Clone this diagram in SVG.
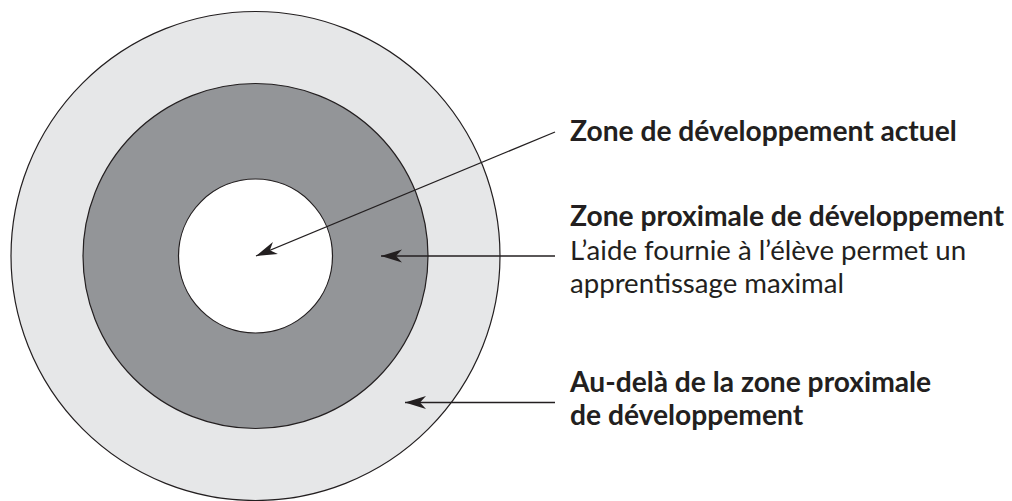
<svg xmlns="http://www.w3.org/2000/svg" width="1012" height="501" viewBox="0 0 1012 501">
<style>
.ring{stroke:#231f20;stroke-width:1.2}
.conn{stroke:#231f20;stroke-width:1.3;fill:none;marker-end:url(#arr)}
.t{font-family:Lato,"Noto Sans","Liberation Sans",sans-serif;font-size:27.6px;fill:#231f20}
.b{font-weight:bold;font-size:28.2px}
</style>
<defs>
<marker id="arr" markerUnits="userSpaceOnUse" viewBox="-22 -8 24 16" markerWidth="24" markerHeight="16" refX="0" refY="0" orient="auto">
<path d="M0,0 L-21,-6.5 L-15,0 L-21,6.5 Z" fill="#231f20"/>
</marker>
</defs>
<g id="outer"><circle class="ring" cx="255.5" cy="256" r="244.5" fill="#e6e7e8"/></g>
<g id="middle"><circle class="ring" cx="255.5" cy="256" r="172.5" fill="#939598"/></g>
<g id="inner"><circle class="ring" cx="255.5" cy="256" r="77" fill="#ffffff"/></g>
<g id="connectors">
<line class="conn" x1="555" y1="132" x2="256" y2="256"/>
<line class="conn" x1="555" y1="256" x2="381" y2="256"/>
<line class="conn" x1="555" y1="402.5" x2="405" y2="402.5"/>
</g>
<g id="label-actuel"><text class="t b" x="570" y="141">Zone de développement actuel</text></g>
<g id="label-proximale">
<text class="t b" x="570" y="226">Zone proximale de développement</text>
<text class="t" x="570" y="260">L’aide fournie à l’élève permet un</text>
<text class="t" x="570" y="293">apprentissage maximal</text>
</g>
<g id="label-audela">
<text class="t b" x="570" y="392">Au-delà de la zone proximale</text>
<text class="t b" x="570" y="425">de développement</text>
</g>
</svg>
